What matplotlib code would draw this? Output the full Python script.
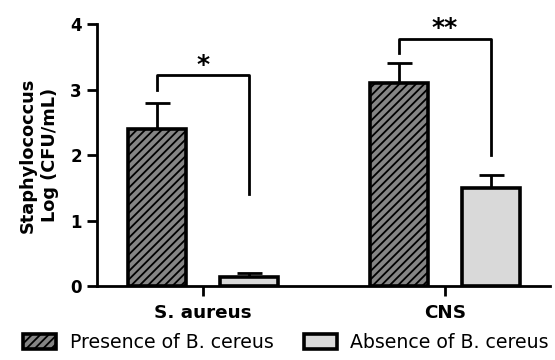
import matplotlib
matplotlib.use("Agg")
import matplotlib.pyplot as plt
import numpy as np

plt.rcParams['font.family'] = ['DejaVu Sans']
plt.rcParams['hatch.linewidth'] = 1.3

categories = ["S. aureus", "CNS"]
series_names = ["Presence of B. cereus", "Absence of B. cereus"]
presence = [2.4, 3.1]
presence_err = [0.4, 0.3]
absence = [0.13, 1.5]
absence_err = [0.07, 0.2]
sig_labels = ["*", "**"]
yticks = [0, 1, 2, 3, 4]

fig = plt.figure(figsize=(5.55, 3.6), dpi=100)
ax = fig.add_axes([0.175, 0.2056, 0.816, 0.7274])

x = np.arange(len(categories))
w = 0.24
off = 0.19
lw = 2.6

ax.bar(x - off, presence, w, color="#858585", edgecolor="black", linewidth=lw,
       hatch="////", label=series_names[0], zorder=3)
ax.bar(x + off, absence, w, color="#d9d9d9", edgecolor="black", linewidth=lw,
       label=series_names[1], zorder=3)
ax.errorbar(x - off, presence, yerr=[np.zeros(2), presence_err], fmt="none",
            ecolor="black", elinewidth=2, capsize=9, capthick=2, zorder=2)
ax.errorbar(x + off, absence, yerr=[np.zeros(2), absence_err], fmt="none",
            ecolor="black", elinewidth=2, capsize=9, capthick=2, zorder=2)

# significance brackets
brackets = [
    (x[0] - off, x[0] + off, 3.0, 3.23, 1.4, 3.37),
    (x[1] - off, x[1] + off, 3.56, 3.77, 2.0, 3.94),
]
for (x1, x2, yl, yt, yr, ys), lab in zip(brackets, sig_labels):
    ax.plot([x1, x1, x2, x2], [yl, yt, yt, yr], color="black", lw=2,
            clip_on=False, zorder=4)
    ax.text((x1 + x2) / 2, ys, lab, ha="center", va="center", fontsize=18,
            fontweight="bold", clip_on=False)

ax.set_xlim(-0.438, 1.434)
ax.set_ylim(0, 4)
ax.set_xticks(x)
ax.set_xticklabels(categories, fontsize=13.2, fontweight="bold")
ax.set_yticks(yticks)
ax.set_yticklabels([str(t) for t in yticks], fontsize=12, fontweight="bold")
ax.tick_params(axis="both", width=2, length=7, direction="out", pad=4)
ax.tick_params(axis="x", pad=6)
ax.spines["top"].set_visible(False)
ax.spines["right"].set_visible(False)
ax.spines["left"].set_linewidth(2)
ax.spines["bottom"].set_linewidth(2)
ax.set_ylabel("Staphylococcus\nLog (CFU/mL)", fontsize=12.8, fontweight="bold",
              labelpad=8, linespacing=1.3)

fig.legend(loc="lower center", bbox_to_anchor=(0.515, -0.025), ncol=2,
           frameon=False, fontsize=13.6, handlelength=1.75, handleheight=0.85,
           columnspacing=1.6, handletextpad=0.7)

fig.savefig("out.png", dpi=100)
